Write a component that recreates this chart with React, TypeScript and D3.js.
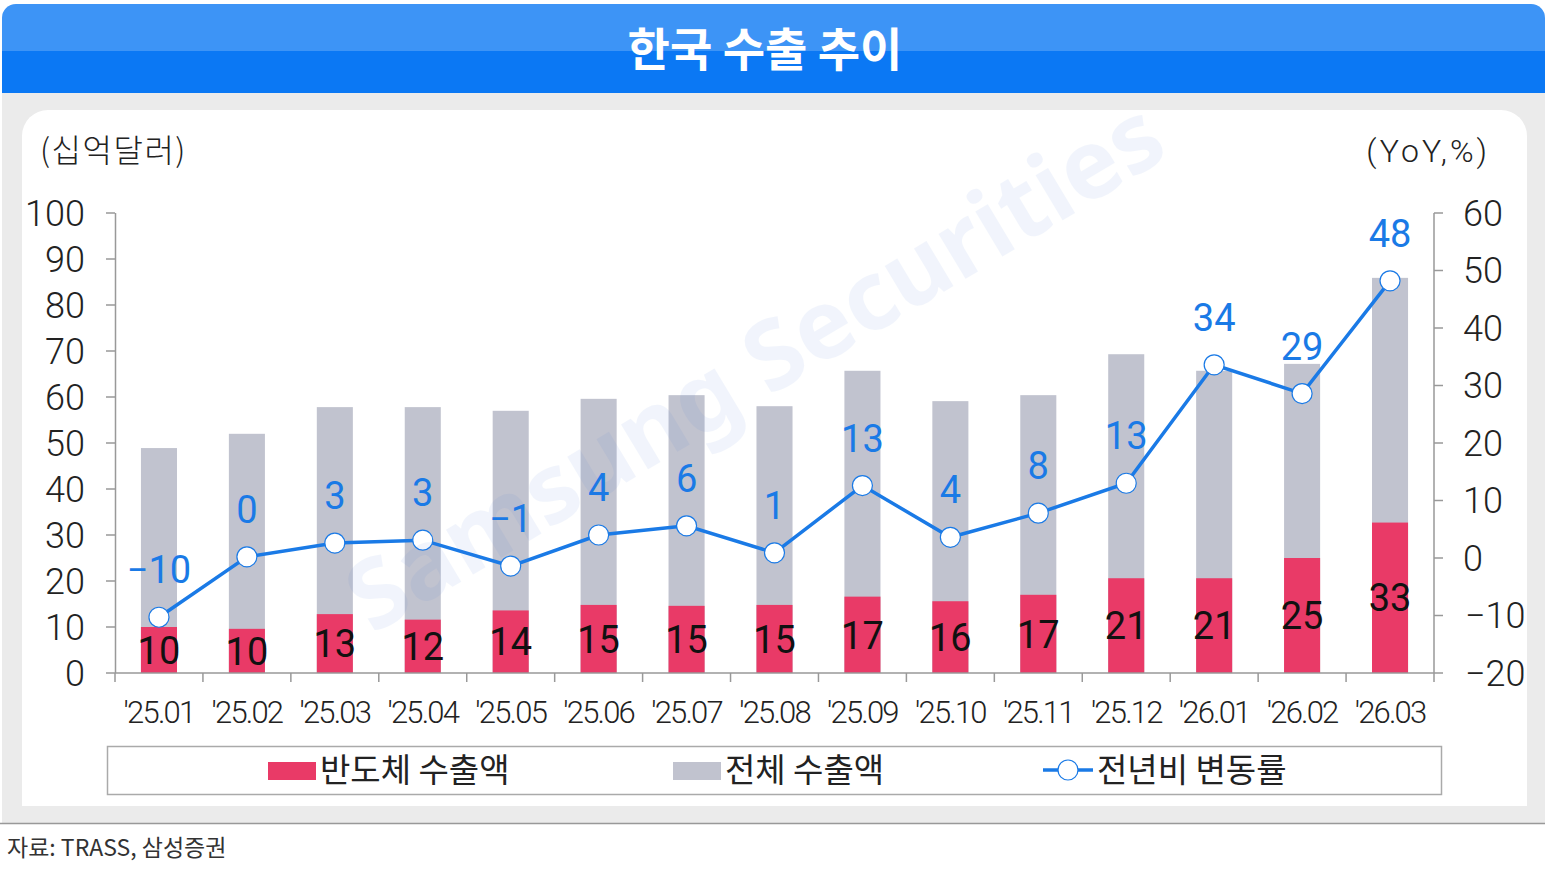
import { useMemo } from "react";
import * as d3 from "d3";

const W = 1545;
const H = 871;
const MARGIN = { top: 213, right: 111, bottom: 198, left: 115 };

const months = ["'25.01", "'25.02", "'25.03", "'25.04", "'25.05", "'25.06", "'25.07", "'25.08", "'25.09", "'25.10", "'25.11", "'25.12", "'26.01", "'26.02", "'26.03"];
const semiExports = [10.0, 9.6, 12.8, 11.6, 13.6, 14.8, 14.6, 14.8, 16.6, 15.6, 17.0, 20.6, 20.6, 25.0, 32.7];
const totalExports = [48.9, 52.0, 57.8, 57.8, 57.0, 59.6, 60.4, 58.0, 65.7, 59.1, 60.4, 69.3, 65.7, 67.2, 85.9];
const yoyChange = [-10.3, 0.2, 2.6, 3.1, -1.4, 4.0, 5.6, 0.9, 12.6, 3.6, 7.8, 13.0, 33.6, 28.6, 48.2];
const leftTicks = [0, 10, 20, 30, 40, 50, 60, 70, 80, 90, 100];
const rightTicks = [-20, -10, 0, 10, 20, 30, 40, 50, 60];

const RED = "#e93a67";
const GRAY = "#c1c3cf";
const BLUE = "#1a7ae6";
const AXIS = "#999999";
const NUM_FONT = "'Liberation Sans Narrow', 'Roboto', 'Noto Sans CJK KR', sans-serif";
const KR_FONT = "'Noto Sans CJK KR', 'Noto Sans', sans-serif";

const fmt = (v: number) => (v < 0 ? `−${Math.abs(v)}` : `${v}`);

const App = () => {
    const boundsWidth = W - MARGIN.left - MARGIN.right;
    const boundsHeight = H - MARGIN.top - MARGIN.bottom;

    const xScale = useMemo(
        () => d3.scaleBand().domain(months).range([0, boundsWidth]).paddingInner(0.59).paddingOuter(0.295),
        [boundsWidth]
    );
    const yLeft = useMemo(() => d3.scaleLinear().domain([0, 100]).range([boundsHeight, 0]), [boundsHeight]);
    const yRight = useMemo(() => d3.scaleLinear().domain([-20, 60]).range([boundsHeight, 0]), [boundsHeight]);

    const step = boundsWidth / months.length;
    const cx = (m: string) => (xScale(m) ?? 0) + xScale.bandwidth() / 2;

    const linePath = d3
        .line<number>()
        .x((_, i) => cx(months[i]))
        .y((d) => yRight(d))(yoyChange);

    return (
        <svg width={W} height={H} style={{ display: "block", position: "absolute", left: 0, top: 0, background: "white" }}>
            <defs>
                <clipPath id="hdr">
                    <rect x={2} y={4} width={W - 2} height={89} rx={14} />
                    <rect x={2} y={40} width={W - 2} height={53} />
                </clipPath>
            </defs>
            {/* header */}
            <g clipPath="url(#hdr)">
                <rect x={2} y={4} width={W - 2} height={48} fill="#3d94f6" />
                <rect x={2} y={51} width={W - 2} height={42} fill="#0b78f4" />
            </g>
            <text x={765} y={66} textAnchor="middle" fill="white" fontSize={46} fontWeight={700} fontFamily={KR_FONT}>
                한국 수출 추이
            </text>
            {/* background panel */}
            <rect x={2} y={93} width={W - 2} height={730} fill="#ebebeb" />
            <line x1={0} x2={W} y1={823.5} y2={823.5} stroke="#999" strokeWidth={1.5} />
            <rect x={22} y={110} width={1505} height={696} rx={26} fill="white" />
            <rect x={22} y={140} width={1505} height={666} fill="white" />

            <text x={40} y={162} fontSize={32} fill="#222" fontFamily={KR_FONT} fontWeight={300} letterSpacing={1.5}>
                (십억달러)
            </text>
            <text x={1490} y={162} textAnchor="end" fontSize={32} fill="#222" fontFamily={NUM_FONT} fontWeight={300} letterSpacing={3}>
                (YoY,%)
            </text>

            <g transform={`translate(${MARGIN.left},${MARGIN.top})`}>
                {/* bars */}
                {months.map((m, i) => (
                    <g key={m}>
                        <rect x={xScale(m)} y={yLeft(totalExports[i])} width={xScale.bandwidth()} height={boundsHeight - yLeft(totalExports[i])} fill={GRAY} />
                        <rect x={xScale(m)} y={yLeft(semiExports[i])} width={xScale.bandwidth()} height={boundsHeight - yLeft(semiExports[i])} fill={RED} />
                    </g>
                ))}

                {/* left axis */}
                <line x1={0.5} x2={0.5} y1={0} y2={boundsHeight} stroke={AXIS} strokeWidth={1.5} />
                {leftTicks.map((t) => (
                    <g key={t} transform={`translate(0,${yLeft(t)})`}>
                        <line x1={-9} x2={0} stroke={AXIS} strokeWidth={1.5} />
                        <text x={-30} dy="0.36em" textAnchor="end" fontSize={36} fill="#222" fontFamily={NUM_FONT} fontWeight={300}>
                            {t}
                        </text>
                    </g>
                ))}

                {/* right axis */}
                <line x1={boundsWidth} x2={boundsWidth} y1={0} y2={boundsHeight} stroke={AXIS} strokeWidth={1.5} />
                {rightTicks.map((t) => (
                    <g key={t} transform={`translate(${boundsWidth},${yRight(t)})`}>
                        <line x1={0} x2={9} stroke={AXIS} strokeWidth={1.5} />
                        <text x={t < 0 ? 31 : 29} dy="0.36em" textAnchor="start" fontSize={36} fill="#222" fontFamily={NUM_FONT} fontWeight={300}>
                            {fmt(t)}
                        </text>
                    </g>
                ))}

                {/* bottom axis */}
                <line x1={0} x2={boundsWidth} y1={boundsHeight} y2={boundsHeight} stroke={AXIS} strokeWidth={1.5} />
                {d3.range(months.length + 1).map((i) => (
                    <line key={i} x1={i * step} x2={i * step} y1={boundsHeight} y2={boundsHeight + 9} stroke={AXIS} strokeWidth={1.5} />
                ))}
                {months.map((m) => (
                    <text key={m} x={cx(m)} y={boundsHeight + 50} textAnchor="middle" fontSize={31} fill="#222" fontFamily={NUM_FONT} fontWeight={300} letterSpacing={-1.8}>
                        {m}
                    </text>
                ))}

                {/* semiconductor labels */}
                {months.map((m, i) => (
                    <text key={m} x={cx(m)} y={(yLeft(semiExports[i]) + boundsHeight) / 2} dy="0.36em" textAnchor="middle" fontSize={38} fill="#111" fontFamily={NUM_FONT}>
                        {Math.round(semiExports[i])}
                    </text>
                ))}

                {/* yoy line */}
                <path d={linePath ?? ""} fill="none" stroke={BLUE} strokeWidth={3.5} />
                {yoyChange.map((v, i) => (
                    <circle key={i} cx={cx(months[i])} cy={yRight(v)} r={10} fill="white" stroke={BLUE} strokeWidth={1.2} />
                ))}
                {yoyChange.map((v, i) => (
                    <text key={i} x={cx(months[i])} y={yRight(v) - 34} textAnchor="middle" fontSize={38} fill={BLUE} fontFamily={NUM_FONT}>
                        {fmt(Math.round(v))}
                    </text>
                ))}
            </g>

            {/* watermark */}
            <text
                x={772}
                y={395}
                textAnchor="middle"
                fontSize={96}
                fontWeight={700}
                fill="#3b6fd8"
                opacity={0.065}
                fontFamily="'Noto Sans', sans-serif"
                transform="rotate(-31 772 395)"
            >
                Samsung Securities
            </text>

            {/* legend */}
            <rect x={107.5} y={746.5} width={1334} height={48} fill="none" stroke="#aaa" strokeWidth={1.5} />
            <rect x={268} y={762} width={48} height={18} fill={RED} />
            <text x={320} y={782} fontSize={33} fill="#222" fontFamily={KR_FONT}>반도체 수출액</text>
            <rect x={673} y={762} width={48} height={18} fill={GRAY} />
            <text x={725} y={782} fontSize={33} fill="#222" fontFamily={KR_FONT}>전체 수출액</text>
            <line x1={1043} x2={1093} y1={770} y2={770} stroke={BLUE} strokeWidth={3.5} />
            <circle cx={1068} cy={770} r={10} fill="white" stroke={BLUE} strokeWidth={1.2} />
            <text x={1097} y={782} fontSize={33} fill="#222" fontFamily={KR_FONT}>전년비 변동률</text>

            {/* source */}
            <text x={7} y={856} fontSize={23} fill="#333" fontFamily={KR_FONT}>
                자료: TRASS, 삼성증권
            </text>
        </svg>
    );
};

export default App;
